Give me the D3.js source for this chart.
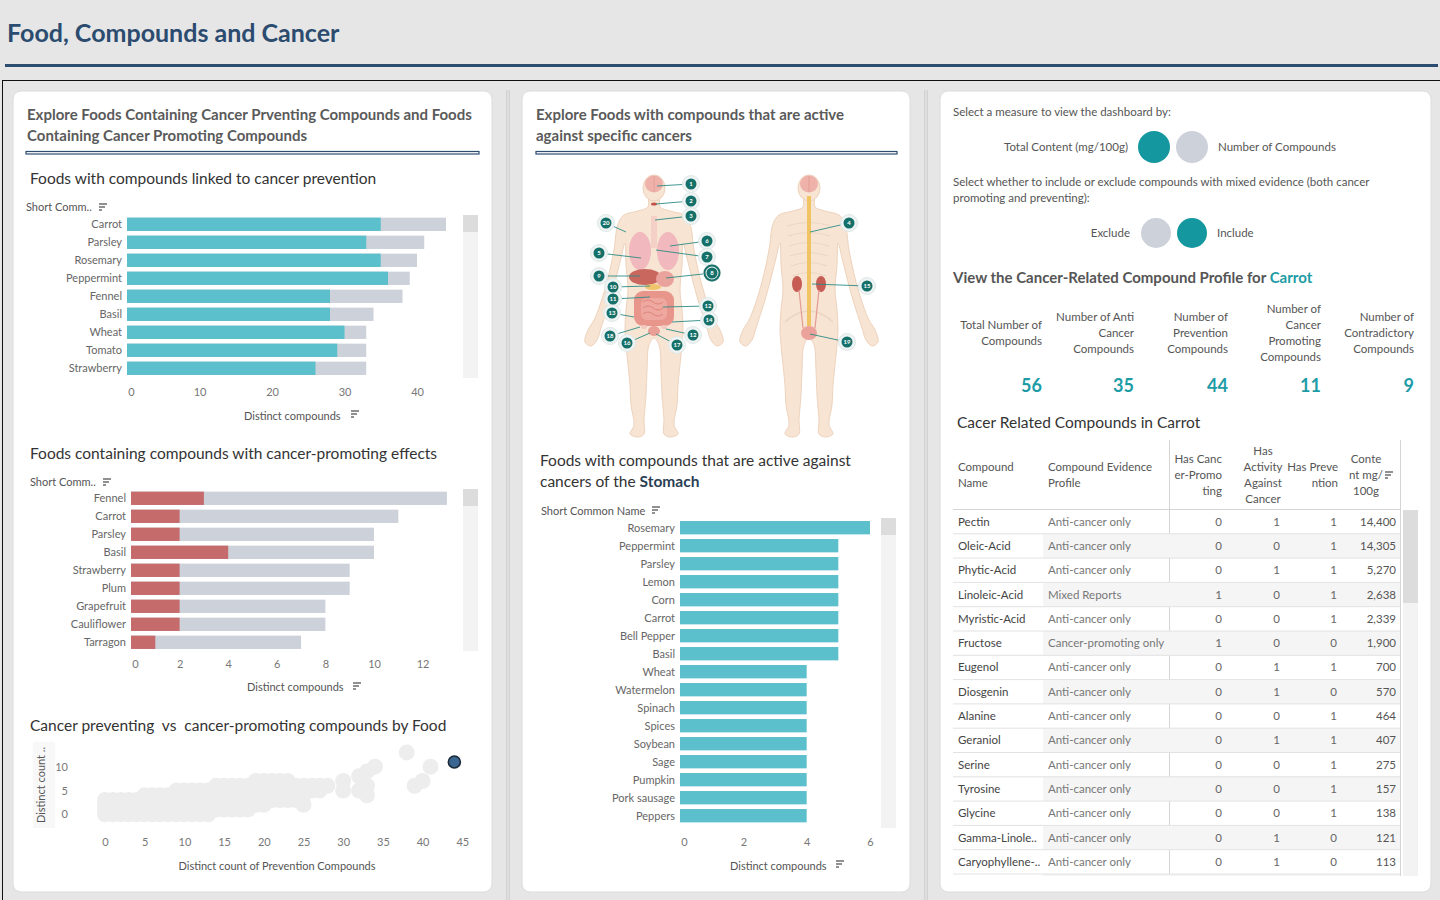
<!doctype html>
<html>
<head>
<meta charset="utf-8">
<script src="https://d3js.org/d3.v7.min.js"></script>
<style>
  body { margin: 0; background: #e6e6e6; }
  svg { display: block; font-family: Lato, "Noto Sans", sans-serif; }
</style>
</head>
<body>
<script>

// ---------- data ----------
var preventFoods = ["Carrot", "Parsley", "Rosemary", "Peppermint", "Fennel", "Basil", "Wheat", "Tomato", "Strawberry"];
var preventAnti  = [35, 33, 35, 36, 28, 28, 30, 29, 26];
var preventTotal = [44, 41, 40, 39, 38, 34, 33, 33, 33];
var preventTicks = [0, 10, 20, 30, 40];

var promoteFoods = ["Fennel", "Carrot", "Parsley", "Basil", "Strawberry", "Plum", "Grapefruit", "Cauliflower", "Tarragon"];
var promoteOnly  = [3, 2, 2, 4, 2, 2, 2, 2, 1];
var promoteTotal = [13, 11, 10, 10, 9, 9, 8, 8, 7];
var promoteTicks = [0, 2, 4, 6, 8, 10, 12];

var stomachFoods  = ["Rosemary", "Peppermint", "Parsley", "Lemon", "Corn", "Carrot", "Bell Pepper", "Basil", "Wheat",
                     "Watermelon", "Spinach", "Spices", "Soybean", "Sage", "Pumpkin", "Pork sausage", "Peppers", "Oregano"];
var stomachCounts = [6, 5, 5, 5, 5, 5, 5, 5, 4, 4, 4, 4, 4, 4, 4, 4, 4, 4];
var stomachTicks  = [0, 2, 4, 6];

// [prevention compounds, promoting compounds] per food
var scatterFoods = [
  [0,0],[0,1],[0,2],[0,3],[1,0],[1,1],[1,2],[1,3],[2,0],[2,1],[2,2],[2,3],
  [3,0],[3,1],[3,2],[3,3],[4,0],[4,1],[4,2],[4,3],[5,0],[5,1],[5,2],[5,3],[5,4],
  [6,0],[6,1],[6,2],[6,3],[6,4],[7,0],[7,1],[7,2],[7,3],[7,4],[8,0],[8,1],[8,2],[8,3],[8,4],
  [9,0],[9,1],[9,2],[9,3],[9,4],[9,5],[10,0],[10,1],[10,2],[10,3],[10,4],[10,5],
  [11,0],[11,1],[11,2],[11,3],[11,4],[11,5],[12,0],[12,1],[12,2],[12,3],[12,4],[12,5],
  [13,0],[13,1],[13,2],[13,3],[13,4],[13,5],[14,1],[14,2],[14,3],[14,4],[14,5],[14,6],
  [15,1],[15,2],[15,3],[15,4],[15,5],[15,6],[16,1],[16,2],[16,3],[16,4],[16,5],[16,6],
  [17,1],[17,2],[17,3],[17,4],[17,5],[17,6],[18,1],[18,2],[18,3],[18,4],[18,5],[18,6],
  [19,2],[19,3],[19,4],[19,5],[19,6],[19,7],[20,2],[20,3],[20,4],[20,5],[20,6],[20,7],
  [21,3],[21,4],[21,5],[21,6],[21,7],[22,3],[22,4],[22,5],[22,6],[22,7],[23,3],[23,4],[23,5],[23,6],[23,7],
  [24,3],[24,4],[24,5],[24,6],[25,2],[25,4],[25,5],[25,6],[26,5],[26,6],[27,5],[27,6],[28,6],
  [30,5],[30,7],[32,5],[32,8],[33,4],[33,6],[33,9],[34,10],[38,13],[39,6],[40,7],[41,10]
];
var carrotPoint = [44, 11];
var scatterXTicks = [0, 5, 10, 15, 20, 25, 30, 35, 40, 45];
var scatterYTicks = [0, 5, 10];

var kpiLabels = [["Total Number of", "Compounds"], ["Number of Anti", "Cancer", "Compounds"],
                 ["Number of", "Prevention", "Compounds"], ["Number of", "Cancer", "Promoting", "Compounds"],
                 ["Number of", "Contradictory", "Compounds"]];
var kpiValues = [56, 35, 44, 11, 9];

var compoundNames = ["Pectin", "Oleic-Acid", "Phytic-Acid", "Linoleic-Acid", "Myristic-Acid", "Fructose", "Eugenol",
                     "Diosgenin", "Alanine", "Geraniol", "Serine", "Tyrosine", "Glycine", "Gamma-Linole..", "Caryophyllene-.."];
var evidenceProfiles = ["Anti-cancer only", "Anti-cancer only", "Anti-cancer only", "Mixed Reports", "Anti-cancer only",
                        "Cancer-promoting only", "Anti-cancer only", "Anti-cancer only", "Anti-cancer only", "Anti-cancer only",
                        "Anti-cancer only", "Anti-cancer only", "Anti-cancer only", "Anti-cancer only", "Anti-cancer only"];
var hasPromoting  = [0, 0, 0, 1, 0, 1, 0, 0, 0, 0, 0, 0, 0, 0, 0];
var hasActivity   = [1, 0, 1, 0, 0, 0, 1, 1, 0, 1, 0, 0, 0, 1, 1];
var hasPrevention = [1, 1, 1, 1, 1, 0, 1, 0, 1, 1, 1, 1, 1, 0, 0];
var contentMg     = [14400, 14305, 5270, 2638, 2339, 1900, 700, 570, 464, 407, 275, 157, 138, 121, 113];

// ---------- colours ----------
var teal = "#5bbfcc", grey = "#cdd2da", red = "#c66b6c", navy = "#2d4d70",
    darkTeal = "#14979f", kpiTeal = "#1d9ca6";
var small = "11.5px";

var svg = d3.select("body").append("svg")
    .attr("width", 1440)
    .attr("height", 900);

svg.append("rect").attr("width", 1440).attr("height", 900).attr("fill", "#e6e6e6");

// header
svg.append("text").attr("x", 7).attr("y", 42)
    .attr("font-size", "25px").attr("font-weight", "bold").attr("fill", "#2b4b6f")
    .text("Food, Compounds and Cancer");
svg.append("rect").attr("x", 5).attr("y", 64).attr("width", 1433).attr("height", 3).attr("fill", navy);

// dashboard frame
svg.append("line").attr("x1", 2).attr("x2", 1440).attr("y1", 80.5).attr("y2", 80.5).attr("stroke", "#111");
svg.append("line").attr("x1", 2.5).attr("x2", 2.5).attr("y1", 80).attr("y2", 900).attr("stroke", "#111");
[506, 924].forEach(function(x) {
    svg.append("rect").attr("x", x).attr("y", 90).attr("width", 4).attr("height", 810).attr("fill", "#d2d2d2");
    svg.append("rect").attr("x", x + 1.5).attr("y", 90).attr("width", 1).attr("height", 810).attr("fill", "#eaeaea");
});

// panels
[[13, 479], [522, 388], [940, 491]].forEach(function(p) {
    svg.append("rect").attr("x", p[0]).attr("y", 91).attr("width", p[1]).attr("height", 801)
        .attr("rx", 8).attr("fill", "#fff").attr("stroke", "#dcdcdc");
});

function lines(x, y, arr, size, weight, fill, anchor, lh) {
    var t = svg.append("text").attr("x", x).attr("y", y)
        .attr("font-size", size).attr("font-weight", weight || "normal")
        .attr("fill", fill).attr("text-anchor", anchor || "start");
    arr.forEach(function(s, i) {
        t.append("tspan").attr("x", x).attr("dy", i === 0 ? 0 : lh).text(s);
    });
    return t;
}

function sortIcon(x, y) {
    var g = svg.append("g").attr("transform", "translate(" + x + "," + y + ")").attr("stroke", "#555").attr("stroke-width", 1.3);
    g.append("line").attr("x1", 0).attr("x2", 8).attr("y1", 0).attr("y2", 0);
    g.append("line").attr("x1", 0).attr("x2", 6).attr("y1", 3).attr("y2", 3);
    g.append("line").attr("x1", 0).attr("x2", 3).attr("y1", 6).attr("y2", 6);
}

function titleRule(x, w) {
    svg.append("rect").attr("x", x).attr("y", 151.5).attr("width", w).attr("height", 2.5)
        .attr("fill", "#fff").attr("stroke", navy).attr("stroke-width", 1.2);
}

function scrollbar(x, y, h, thumb) {
    svg.append("rect").attr("x", x).attr("y", y).attr("width", 15).attr("height", h).attr("fill", "#f3f3f3");
    svg.append("rect").attr("x", x).attr("y", y).attr("width", 15).attr("height", thumb).attr("fill", "#dcdcdc");
}

function bottomAxis(scale, ticks, y, shiftFirst) {
    var g = svg.append("g").attr("transform", "translate(0," + y + ")")
        .call(d3.axisBottom(scale).tickValues(ticks).tickFormat(d3.format("d")).tickSize(0).tickPadding(0));
    g.select(".domain").remove();
    g.selectAll("text").attr("font-size", "11px").attr("fill", "#777").attr("font-family", "Lato, sans-serif");
    if (shiftFirst) g.selectAll("text").filter(function(d) { return d === 0; }).attr("dx", shiftFirst);
    return g;
}

function categoryLabels(yScale, cats, xRight) {
    svg.append("g").selectAll("text").data(cats).enter().append("text")
        .attr("x", xRight)
        .attr("y", function(d) { return yScale(d) + yScale.bandwidth() / 2 + 4; })
        .attr("text-anchor", "end").attr("font-size", "11px").attr("fill", "#666")
        .text(function(d) { return d; });
}

function stackedBars(cats, front, back, frontColor, xScale, yScale) {
    var g = svg.append("g");
    g.selectAll(".back").data(cats).enter().append("rect")
        .attr("x", xScale(0)).attr("y", function(d) { return yScale(d); })
        .attr("width", function(d, i) { return xScale(back[i]) - xScale(0); })
        .attr("height", yScale.bandwidth()).attr("fill", grey);
    g.selectAll(".front").data(cats).enter().append("rect")
        .attr("x", xScale(0)).attr("y", function(d) { return yScale(d); })
        .attr("width", function(d, i) { return xScale(front[i]) - xScale(0); })
        .attr("height", yScale.bandwidth()).attr("fill", frontColor);
}

// ================= PANEL 1 =================
lines(27, 120, ["Explore Foods Containing Cancer Prventing Compounds and Foods", "Containing Cancer Promoting Compounds"],
    "15px", "bold", "#5a5a5a", "start", 21);
titleRule(26, 453);

// chart 1: prevention
svg.append("text").attr("x", 30).attr("y", 184).attr("font-size", "15.5px").attr("fill", "#333")
    .text("Foods with compounds linked to cancer prevention");
svg.append("text").attr("x", 26).attr("y", 211).attr("font-size", "11px").attr("fill", "#555").text("Short Comm..");
sortIcon(99, 204);

var x1 = d3.scaleLinear().domain([0, 45]).range([127, 127 + 45 * 7.25]);
var y1 = d3.scaleBand().domain(preventFoods).range([215.3, 215.3 + 18 * preventFoods.length])
    .paddingInner(0.26).paddingOuter(0.13);
scrollbar(463, 215, 163, 17);
stackedBars(preventFoods, preventAnti, preventTotal, teal, x1, y1);
categoryLabels(y1, preventFoods, 122);
bottomAxis(x1, preventTicks, 388, 4);
svg.append("text").attr("x", 244).attr("y", 420).attr("font-size", "11px").attr("fill", "#555").text("Distinct compounds");
sortIcon(351, 411);

// chart 2: promoting
svg.append("text").attr("x", 30).attr("y", 459).attr("font-size", "15.5px").attr("fill", "#333")
    .text("Foods containing compounds with cancer-promoting effects");
svg.append("text").attr("x", 30).attr("y", 486).attr("font-size", "11px").attr("fill", "#555").text("Short Comm..");
sortIcon(103, 479);

var x2 = d3.scaleLinear().domain([0, 13]).range([131, 131 + 13 * 24.3]);
var y2 = d3.scaleBand().domain(promoteFoods).range([489.3, 489.3 + 18 * promoteFoods.length])
    .paddingInner(0.26).paddingOuter(0.13);
scrollbar(463, 489, 162, 17);
stackedBars(promoteFoods, promoteOnly, promoteTotal, red, x2, y2);
categoryLabels(y2, promoteFoods, 126);
bottomAxis(x2, promoteTicks, 660, 4);
svg.append("text").attr("x", 247).attr("y", 691).attr("font-size", "11px").attr("fill", "#555").text("Distinct compounds");
sortIcon(353, 683);

// chart 3: scatter
svg.append("text").attr("x", 30).attr("y", 731).attr("font-size", "15.5px").attr("fill", "#333")
    .style("white-space", "pre")
    .text("Cancer preventing  vs  cancer-promoting compounds by Food");
svg.append("rect").attr("x", 33).attr("y", 742).attr("width", 22).attr("height", 86).attr("fill", "#f8f8f8");
svg.append("text").attr("transform", "translate(45,785) rotate(-90)").attr("text-anchor", "middle")
    .attr("font-size", "11px").attr("fill", "#555").text("Distinct count ..");

var xs = d3.scaleLinear().domain([0, 45]).range([105, 462.3]);
var ys = d3.scaleLinear().domain([0, 10]).range([814.3, 766.7]);
svg.append("g").selectAll("circle").data(scatterFoods).enter().append("circle")
    .attr("cx", function(d) { return xs(d[0]); })
    .attr("cy", function(d) { return ys(d[1]); })
    .attr("r", 8).attr("fill", "#ededed");
svg.append("circle").attr("cx", xs(carrotPoint[0])).attr("cy", ys(carrotPoint[1])).attr("r", 6)
    .attr("fill", "#3b6692").attr("stroke", "#1b2938").attr("stroke-width", 1.6);
bottomAxis(xs, scatterXTicks, 838, 0);
var yAx = svg.append("g").attr("transform", "translate(68,0)")
    .call(d3.axisLeft(ys).tickValues(scatterYTicks).tickSize(0).tickPadding(0));
yAx.select(".domain").remove();
yAx.selectAll("text").attr("font-size", "11px").attr("fill", "#777").attr("font-family", "Lato, sans-serif");
svg.append("text").attr("x", 277).attr("y", 870).attr("text-anchor", "middle").attr("font-size", "11px")
    .attr("fill", "#555").text("Distinct count of Prevention Compounds");

// ================= PANEL 2 =================
lines(536, 120, ["Explore Foods with compounds that are active", "against specific cancers"],
    "15px", "bold", "#5a5a5a", "start", 21);
titleRule(536, 361);

// body illustration
var skin = "#f7e4d3", skinLine = "#eed3bd";
var halfBody = [[0,197],[5,198],[6,207],[16,211],[30,215],[36,224],[40,250],[46,278],[54,305],[60,320],[66,330],
    [69,342],[63,346],[57,340],[53,328],[44,300],[38,278],[33,258],[29,243],[28,265],[26,290],[28,310],[29,330],
    [27,355],[24,385],[23,405],[20,425],[24,434],[16,437],[10,434],[10,420],[8,395],[7,370],[5,345],[0,338]];

function drawBody(cx) {
    var pts = halfBody.map(function(p) { return [cx + p[0], p[1]]; });
    var left = halfBody.slice(1, -1).reverse().map(function(p) { return [cx - p[0], p[1]]; });
    var all = pts.concat(left);
    var g = svg.append("g");
    g.append("path").attr("d", d3.line().curve(d3.curveCatmullRomClosed.alpha(0.5))(all))
        .attr("fill", skin).attr("stroke", skinLine).attr("stroke-width", 1);
    g.append("ellipse").attr("cx", cx).attr("cy", 188).attr("rx", 11).attr("ry", 13)
        .attr("fill", skin).attr("stroke", skinLine);
    g.append("ellipse").attr("cx", cx).attr("cy", 184).attr("rx", 9).attr("ry", 8.5).attr("fill", "#eeb2aa");
    g.append("line").attr("x1", cx).attr("x2", cx).attr("y1", 176).attr("y2", 192).attr("stroke", "#e09a92").attr("stroke-width", 0.8);
    return g;
}

var fx = 654, bx = 809;
var front = drawBody(fx);
front.append("ellipse").attr("cx", fx).attr("cy", 204).attr("rx", 3).attr("ry", 1.6).attr("fill", "#c5504a");
front.append("rect").attr("x", fx - 3).attr("y", 216).attr("width", 6).attr("height", 32).attr("fill", "#f4d0c6");
front.append("ellipse").attr("cx", fx - 14).attr("cy", 251).attr("rx", 11).attr("ry", 19).attr("fill", "#f1b9bd");
front.append("ellipse").attr("cx", fx + 14).attr("cy", 251).attr("rx", 11).attr("ry", 19).attr("fill", "#f1b9bd");
front.append("ellipse").attr("cx", fx - 9).attr("cy", 277).attr("rx", 16).attr("ry", 8).attr("fill", "#c9665e");
front.append("ellipse").attr("cx", fx + 11).attr("cy", 279).attr("rx", 9).attr("ry", 8).attr("fill", "#eaa39c");
front.append("ellipse").attr("cx", fx - 1).attr("cy", 287).attr("rx", 8).attr("ry", 3).attr("fill", "#f0c46c");
front.append("rect").attr("x", fx - 20).attr("y", 291).attr("width", 40).attr("height", 35).attr("rx", 9).attr("fill", "#e8968c");
front.append("rect").attr("x", fx - 13).attr("y", 298).attr("width", 26).attr("height", 22).attr("rx", 6).attr("fill", "#eea89f");
[302, 308, 314].forEach(function(yy) {
    front.append("path").attr("d", "M" + (fx - 11) + "," + yy + " q5,-4 10,0 t10,0")
        .attr("fill", "none").attr("stroke", "#d9786f").attr("stroke-width", 0.8);
});
front.append("ellipse").attr("cx", fx).attr("cy", 331).attr("rx", 6).attr("ry", 5).attr("fill", "#e99e96");
front.append("ellipse").attr("cx", fx - 10).attr("cy", 327).attr("rx", 3).attr("ry", 2).attr("fill", "#f2c8bf");
front.append("ellipse").attr("cx", fx + 10).attr("cy", 327).attr("rx", 3).attr("ry", 2).attr("fill", "#f2c8bf");

var back = drawBody(bx);
[222, 232, 242, 252, 262, 272].forEach(function(yy, i) {
    back.append("path").attr("d", "M" + (bx - 22 + i) + "," + (yy + 4) + " Q" + bx + "," + (yy - 3) + " " + (bx + 22 - i) + "," + (yy + 4))
        .attr("fill", "none").attr("stroke", "#ecd5c2").attr("stroke-width", 1.2);
});
back.append("path").attr("d", "M" + (bx - 24) + ",322 Q" + bx + ",300 " + (bx + 24) + ",322")
    .attr("fill", "none").attr("stroke", "#ecd5c2").attr("stroke-width", 1.5);
back.append("rect").attr("x", bx - 2).attr("y", 196).attr("width", 4).attr("height", 130).attr("fill", "#f0c363");
back.append("ellipse").attr("cx", bx - 12).attr("cy", 284).attr("rx", 5).attr("ry", 8).attr("fill", "#c65c53");
back.append("ellipse").attr("cx", bx + 12).attr("cy", 284).attr("rx", 5).attr("ry", 8).attr("fill", "#c65c53");
back.append("path").attr("d", "M" + (bx - 10) + ",290 L" + (bx - 6) + ",328 M" + (bx + 10) + ",290 L" + (bx + 6) + ",328")
    .attr("stroke", "#e59a91").attr("stroke-width", 1.2);
back.append("ellipse").attr("cx", bx).attr("cy", 333).attr("rx", 8).attr("ry", 7).attr("fill", "#eaa29b");

// numbered cancer-site markers: label, marker x, marker y, organ x, organ y
var bodyMarkers = [
    ["1", 691, 184, 657, 186], ["2", 691, 201, 656, 204], ["3", 691, 216, 655, 220], ["20", 606, 223, 626, 232],
    ["6", 707, 241, 670, 246], ["5", 599, 253, 641, 258], ["7", 707, 257, 656, 250], ["8", 712, 273, 666, 278],
    ["9", 599, 276, 640, 276], ["10", 613, 287, 650, 286], ["11", 613, 299, 650, 297], ["12", 708, 306, 663, 307],
    ["13", 612, 313, 634, 317], ["14", 709, 320, 672, 322], ["12", 693, 335, 666, 329], ["18", 610, 336, 640, 327],
    ["16", 627, 343, 650, 333], ["17", 677, 345, 656, 334],
    ["4", 849, 223, 810, 232], ["15", 867, 286, 812, 284], ["19", 847, 342, 810, 334]
];
var mk = svg.append("g");
mk.selectAll("line").data(bodyMarkers).enter().append("line")
    .attr("x1", function(d) { return d[1]; }).attr("y1", function(d) { return d[2]; })
    .attr("x2", function(d) { return d[3]; }).attr("y2", function(d) { return d[4]; })
    .attr("stroke", "#2b8c86").attr("stroke-width", 0.9);
mk.selectAll(".halo").data(bodyMarkers).enter().append("circle")
    .attr("cx", function(d) { return d[1]; }).attr("cy", function(d) { return d[2]; })
    .attr("r", 8.5).attr("fill", "#eef3f3").attr("stroke", "#e0e8e8");
mk.append("circle").attr("cx", 712).attr("cy", 273).attr("r", 7.5).attr("fill", "none")
    .attr("stroke", "#166f69").attr("stroke-width", 2);
mk.selectAll(".dot").data(bodyMarkers).enter().append("circle")
    .attr("cx", function(d) { return d[1]; }).attr("cy", function(d) { return d[2]; })
    .attr("r", 5.5).attr("fill", "#16706a");
mk.selectAll("text").data(bodyMarkers).enter().append("text")
    .attr("x", function(d) { return d[1]; }).attr("y", function(d) { return d[2] + 2.2; })
    .attr("text-anchor", "middle").attr("font-size", "6px").attr("font-weight", "bold").attr("fill", "#fff")
    .text(function(d) { return d[0]; });

// stomach chart
var st = svg.append("text").attr("x", 540).attr("y", 466).attr("font-size", "15.5px").attr("fill", "#333");
st.append("tspan").attr("x", 540).text("Foods with compounds that are active against");
st.append("tspan").attr("x", 540).attr("dy", 21).text("cancers of the ");
st.append("tspan").attr("font-weight", "bold").attr("fill", "#2b3f55").text("Stomach");
svg.append("text").attr("x", 541).attr("y", 515).attr("font-size", "11px").attr("fill", "#555").text("Short Common Name");
sortIcon(652, 507);

var x3 = d3.scaleLinear().domain([0, 6]).range([680, 870]);
var y3 = d3.scaleBand().domain(stomachFoods).range([518.7, 518.7 + 18 * stomachFoods.length])
    .paddingInner(0.26).paddingOuter(0.13);
svg.append("clipPath").attr("id", "stomachClip").append("rect")
    .attr("x", 520).attr("y", 515).attr("width", 390).attr("height", 312);
scrollbar(881, 518, 310, 17);
var sg = svg.append("g").attr("clip-path", "url(#stomachClip)");
sg.selectAll("rect").data(stomachFoods).enter().append("rect")
    .attr("x", x3(0)).attr("y", function(d) { return y3(d); })
    .attr("width", function(d, i) { return x3(stomachCounts[i]) - x3(0); })
    .attr("height", y3.bandwidth()).attr("fill", teal);
sg.selectAll("text").data(stomachFoods).enter().append("text")
    .attr("x", 675).attr("y", function(d) { return y3(d) + y3.bandwidth() / 2 + 4; })
    .attr("text-anchor", "end").attr("font-size", "11px").attr("fill", "#666")
    .text(function(d) { return d; });
bottomAxis(x3, stomachTicks, 838, 4);
svg.append("text").attr("x", 730).attr("y", 870).attr("font-size", "11px").attr("fill", "#555").text("Distinct compounds");
sortIcon(836, 861);

// ================= PANEL 3 =================
svg.append("text").attr("x", 953).attr("y", 116).attr("font-size", small).attr("fill", "#555")
    .text("Select a measure to view the dashboard by:");
svg.append("text").attr("x", 1128).attr("y", 151).attr("text-anchor", "end").attr("font-size", small).attr("fill", "#555")
    .text("Total Content (mg/100g)");
svg.append("circle").attr("cx", 1154).attr("cy", 147).attr("r", 16).attr("fill", darkTeal);
svg.append("circle").attr("cx", 1192).attr("cy", 147).attr("r", 16).attr("fill", grey);
svg.append("text").attr("x", 1218).attr("y", 151).attr("font-size", small).attr("fill", "#555").text("Number of Compounds");

lines(953, 186, ["Select whether to include or exclude compounds with mixed evidence (both cancer",
    "promoting and preventing):"], small, "normal", "#555", "start", 16);
svg.append("text").attr("x", 1130).attr("y", 237).attr("text-anchor", "end").attr("font-size", small).attr("fill", "#555")
    .text("Exclude");
svg.append("circle").attr("cx", 1156).attr("cy", 233).attr("r", 15).attr("fill", grey);
svg.append("circle").attr("cx", 1192).attr("cy", 233).attr("r", 15).attr("fill", darkTeal);
svg.append("text").attr("x", 1217).attr("y", 237).attr("font-size", small).attr("fill", "#555").text("Include");

var vt = svg.append("text").attr("x", 953).attr("y", 283).attr("font-size", "15px").attr("font-weight", "bold").attr("fill", "#555");
vt.append("tspan").text("View the Cancer-Related Compound Profile for ");
vt.append("tspan").attr("fill", kpiTeal).text("Carrot");

// KPIs
var kpiRight = [1042, 1134, 1228, 1321, 1414];
kpiLabels.forEach(function(lbl, i) {
    var startY = 337 - (lbl.length - 1) * 8;
    lines(kpiRight[i], startY, lbl, small, "normal", "#555", "end", 16);
});
svg.append("g").selectAll("text").data(kpiValues).enter().append("text")
    .attr("x", function(d, i) { return kpiRight[i]; }).attr("y", 392)
    .attr("text-anchor", "end").attr("font-size", "18px").attr("font-weight", "bold").attr("fill", kpiTeal)
    .text(function(d) { return d; });

// table
svg.append("text").attr("x", 957).attr("y", 428).attr("font-size", "15.5px").attr("fill", "#333")
    .text("Cacer Related Compounds in Carrot");

var rowH = 24.3, tableTop = 509.5;
var tb = svg.append("g");
svg.append("clipPath").attr("id", "tableClip").append("rect").attr("x", 950).attr("y", 505).attr("width", 455).attr("height", 371);
var rows = svg.append("g").attr("clip-path", "url(#tableClip)");
var rowIdx = d3.range(compoundNames.length + 1);
rows.selectAll(".band").data(rowIdx.filter(function(i) { return i % 2 === 1; })).enter().append("rect")
    .attr("x", 1043).attr("y", function(i) { return tableTop + i * rowH; })
    .attr("width", 357).attr("height", rowH).attr("fill", "#f5f5f5");
rows.selectAll(".sep").data(rowIdx).enter().append("line")
    .attr("x1", 953).attr("x2", 1400)
    .attr("y1", function(i) { return tableTop + (i + 1) * rowH; })
    .attr("y2", function(i) { return tableTop + (i + 1) * rowH; })
    .attr("stroke", "#e2e2e2");

function col(values, x, anchor, color, fmt) {
    rows.selectAll(null).data(values).enter().append("text")
        .attr("x", x).attr("y", function(d, i) { return tableTop + i * rowH + rowH / 2 + 4; })
        .attr("text-anchor", anchor).attr("font-size", small).attr("fill", color)
        .text(function(d) { return fmt ? fmt(d) : d; });
}
col(compoundNames, 958, "start", "#444");
col(evidenceProfiles, 1048, "start", "#777");
col(hasPromoting, 1222, "end", "#666");
col(hasActivity, 1280, "end", "#666");
col(hasPrevention, 1337, "end", "#666");
col(contentMg, 1396, "end", "#555", d3.format(","));

tb.append("line").attr("x1", 953).attr("x2", 1400).attr("y1", tableTop).attr("y2", tableTop).attr("stroke", "#d5d5d5");
tb.append("line").attr("x1", 1169.5).attr("x2", 1169.5).attr("y1", 440).attr("y2", 876).attr("stroke", "#d5d5d5");
tb.append("line").attr("x1", 1400.5).attr("x2", 1400.5).attr("y1", 440).attr("y2", 876).attr("stroke", "#d5d5d5");
scrollbar(1403, 510, 366, 93);

lines(958, 471, ["Compound", "Name"], small, "normal", "#555", "start", 16);
lines(1048, 471, ["Compound Evidence", "Profile"], small, "normal", "#555", "start", 16);
lines(1222, 463, ["Has Canc", "er-Promo", "ting"], small, "normal", "#555", "end", 16);
lines(1263, 455, ["Has", "Activity", "Against", "Cancer"], small, "normal", "#555", "middle", 16);
lines(1338, 471, ["Has Preve", "ntion"], small, "normal", "#555", "end", 16);
lines(1366, 463, ["Conte", "nt mg/", "100g"], small, "normal", "#555", "middle", 16);
sortIcon(1385, 472);

</script>
</body>
</html>
